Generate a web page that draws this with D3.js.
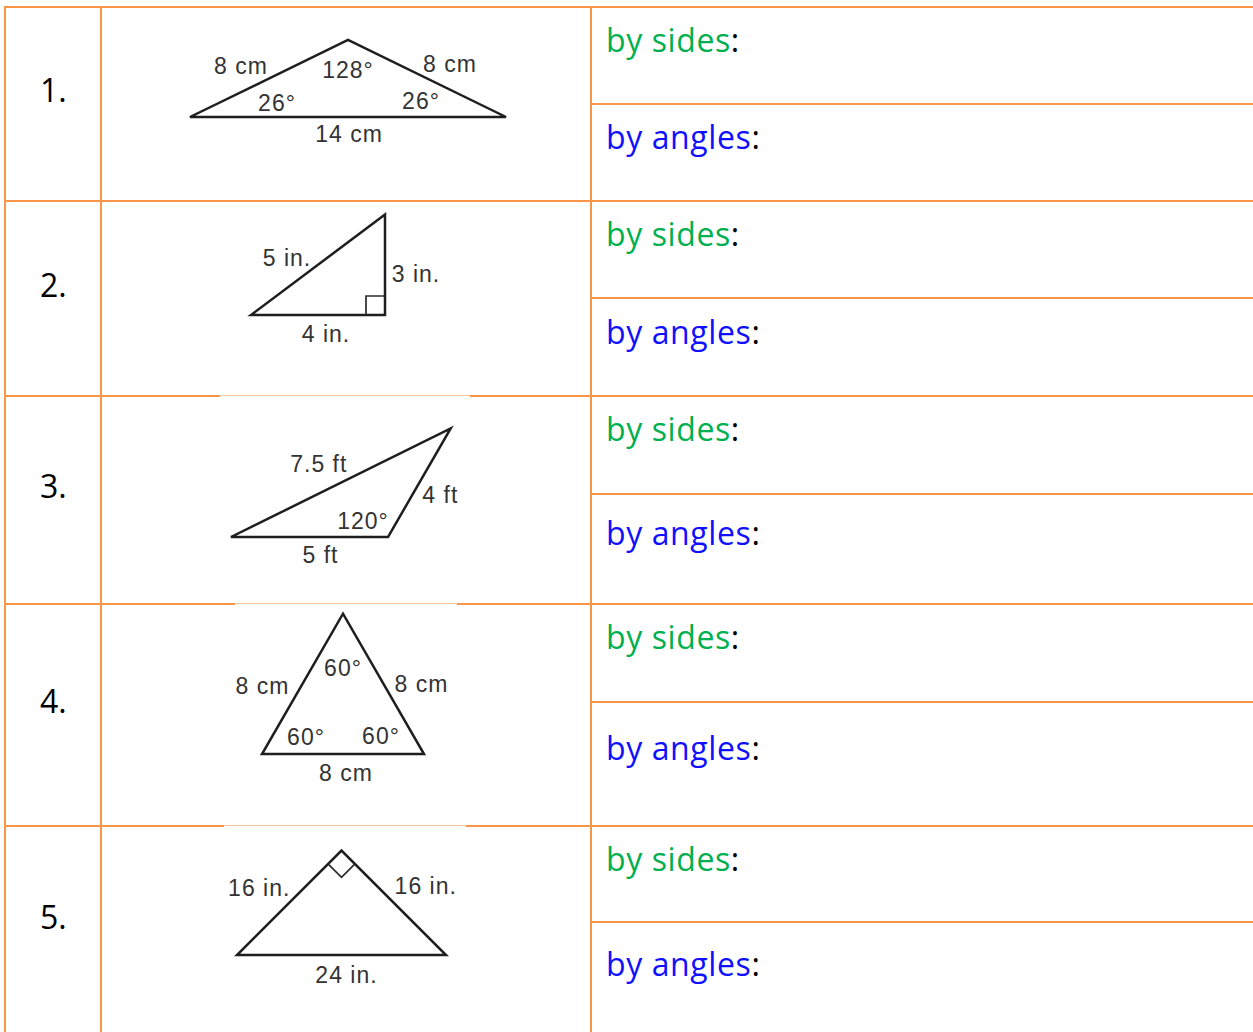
<!DOCTYPE html>
<html>
<head>
<meta charset="utf-8">
<script src="https://cdn.jsdelivr.net/npm/d3@7"></script>
<style>
  body { margin: 0; background: #fff; }
  svg { display: block; }
</style>
</head>
<body>
<div id="container"></div>
<script>
// worksheet data
var rowNumbers = ["1.", "2.", "3.", "4.", "5."];
var triBase = [14, 4, 5, 8, 24];
var angleLeft = [26, 36.87, 26.3, 60, 45];
var angleRight = [26, 90, 120, 60, 45];
// side labels: [left side AC, right side CB, base AB]
var sideLabels = [
  ["8 cm", "8 cm", "14 cm"],
  ["5 in.", "3 in.", "4 in."],
  ["7.5 ft", "4 ft", "5 ft"],
  ["8 cm", "8 cm", "8 cm"],
  ["16 in.", "16 in.", "24 in."]
];
// angle labels: [A, B, C]
var angleLabels = [
  ["26°", "26°", "128°"],
  [null, null, null],
  [null, "120°", null],
  ["60°", "60°", "60°"],
  [null, null, null]
];
var rightAngleAt = [null, "B", null, null, "C"];
var sidesText = "by sides", anglesText = "by angles";

// layout
var W = 1253, H = 1032;
var orange = "#f79646";
var rowEdges = [7, 201, 396, 604, 826, 1036];
var splitLines = [104, 298, 494, 702, 922];
var colX = [5, 101, 591];
var triOrigin = [[190, 117, 316], [251, 315, 134], [231, 537, 157], [262, 754, 162], [237, 955, 209]];
var sideOffsets = [
  [[-28, -13], [23, -15], [1, 17]],
  [[-31, -7], [31, 9], [8, 19]],
  [[-22, -19], [21, 12], [11, 18]],
  [[-40, 2], [38, 0], [3, 19]],
  [[-30, -15], [32, -17], [5, 20]]
];
var angleOffsets = [
  [[87, -14], [-85, -16], [0, 30]],
  [[0, 0], [0, 0], [0, 0]],
  [[0, 0], [-25, -16], [0, 0]],
  [[44, -17], [-43, -18], [0, 54]],
  [[0, 0], [0, 0], [0, 0]]
];
// scanned pictures lie over parts of the borders
var patches = [[396, 220, 470], [604, 235, 457], [826, 224, 466]];

var svg = d3.select("#container").append("svg")
    .attr("width", W)
    .attr("height", H);

svg.append("rect").attr("width", W).attr("height", H).attr("fill", "#fff");

var grid = svg.append("g").attr("stroke", orange).attr("stroke-width", 2);

// horizontal lines
grid.selectAll("line.h")
  .data(rowEdges.slice(0, 5))
  .enter().append("line")
    .attr("class", "h")
    .attr("x1", colX[0] - 1).attr("x2", W)
    .attr("y1", function(d) { return d; }).attr("y2", function(d) { return d; });

grid.selectAll("line.s")
  .data(splitLines)
  .enter().append("line")
    .attr("class", "s")
    .attr("x1", colX[2]).attr("x2", W)
    .attr("y1", function(d) { return d; }).attr("y2", function(d) { return d; });

grid.selectAll("line.v")
  .data(colX)
  .enter().append("line")
    .attr("class", "v")
    .attr("x1", function(d) { return d; }).attr("x2", function(d) { return d; })
    .attr("y1", rowEdges[0] - 1).attr("y2", H);

var patch = svg.append("g").selectAll("g")
  .data(patches)
  .enter().append("g");
patch.append("rect")
  .attr("x", function(d) { return d[1]; })
  .attr("y", function(d) { return d[0] - 2; })
  .attr("width", function(d) { return d[2] - d[1]; })
  .attr("height", 4)
  .attr("fill", "#fff");
patch.append("line")
  .attr("x1", function(d) { return d[1]; })
  .attr("x2", function(d) { return d[2]; })
  .attr("y1", function(d) { return d[0] - 0.5; })
  .attr("y2", function(d) { return d[0] - 0.5; })
  .attr("stroke", "#fbc597")
  .attr("stroke-width", 1);

// row numbers
svg.selectAll("text.num")
  .data(rowNumbers)
  .enter().append("text")
    .attr("class", "num")
    .attr("x", 40)
    .attr("y", function(d, i) { return (rowEdges[i] + rowEdges[i + 1]) / 2 - 2; })
    .style("font-family", "'Open Sans', sans-serif")
    .style("font-size", "32px")
    .attr("fill", "#000")
    .text(function(d) { return d; });

// right column prompts
function prompt(y, label, color) {
  var t = svg.append("text")
    .attr("x", 606)
    .attr("y", y)
    .style("font-family", "'Open Sans', sans-serif")
    .style("font-size", "32px")
    .style("letter-spacing", "0.6px");
  t.append("tspan").attr("fill", color).text(label);
  t.append("tspan").attr("fill", "#000").text(":");
}
rowNumbers.forEach(function(d, i) {
  var top = rowEdges[i], mid = (rowEdges[i] + rowEdges[i + 1]) / 2;
  prompt(top + 45, sidesText, "#00b050");
  prompt(mid + 45, anglesText, "#1010ff");
});

// triangles
var rad = Math.PI / 180;
triBase.forEach(function(base, i) {
  var a = angleLeft[i] * rad, b = angleRight[i] * rad;
  var ac = base * Math.sin(b) / Math.sin(Math.PI - a - b);
  var pts = [[0, 0], [base, 0], [ac * Math.cos(a), ac * Math.sin(a)]];

  var o = triOrigin[i];
  var x = d3.scaleLinear().domain([0, base]).range([o[0], o[0] + o[2]]);
  var y = d3.scaleLinear().domain([0, base]).range([o[1], o[1] - o[2]]);
  var P = pts.map(function(p) { return [x(p[0]), y(p[1])]; });

  var g = svg.append("g");
  g.append("path")
    .attr("d", d3.line()(P) + "Z")
    .attr("fill", "none")
    .attr("stroke", "#1e1e1e")
    .attr("stroke-width", 2.5)
    .attr("stroke-linejoin", "miter");

  // right angle marker
  if (rightAngleAt[i]) {
    var k = rightAngleAt[i] === "B" ? 1 : 2;
    var v = P[k], n1 = P[(k + 1) % 3], n2 = P[(k + 2) % 3];
    var s = 19;
    function toward(p, q) {
      var dx = q[0] - p[0], dy = q[1] - p[1], l = Math.sqrt(dx * dx + dy * dy);
      return [dx / l * s, dy / l * s];
    }
    var u1 = toward(v, n1), u2 = toward(v, n2);
    g.append("path")
      .attr("d", d3.line()([
        [v[0] + u1[0], v[1] + u1[1]],
        [v[0] + u1[0] + u2[0], v[1] + u1[1] + u2[1]],
        [v[0] + u2[0], v[1] + u2[1]]
      ]))
      .attr("fill", "none")
      .attr("stroke", "#2a2a2a")
      .attr("stroke-width", 1.7);
  }

  var edges = [[0, 2], [2, 1], [0, 1]];
  var labels = [];
  edges.forEach(function(e, j) {
    var m = [(P[e[0]][0] + P[e[1]][0]) / 2, (P[e[0]][1] + P[e[1]][1]) / 2];
    labels.push({ text: sideLabels[i][j], x: m[0] + sideOffsets[i][j][0], y: m[1] + sideOffsets[i][j][1] });
  });
  angleLabels[i].forEach(function(t, j) {
    if (t) labels.push({ text: t, x: P[j][0] + angleOffsets[i][j][0], y: P[j][1] + angleOffsets[i][j][1] });
  });

  g.selectAll("text")
    .data(labels)
    .enter().append("text")
      .attr("x", function(d) { return d.x; })
      .attr("y", function(d) { return d.y; })
      .attr("dy", "0.36em")
      .attr("text-anchor", "middle")
      .style("font-family", "'Liberation Sans', Arial, sans-serif")
      .style("font-size", "23px")
      .style("letter-spacing", "1px")
      .attr("fill", "#333")
      .text(function(d) { return d.text; });
});
</script>
</body>
</html>
